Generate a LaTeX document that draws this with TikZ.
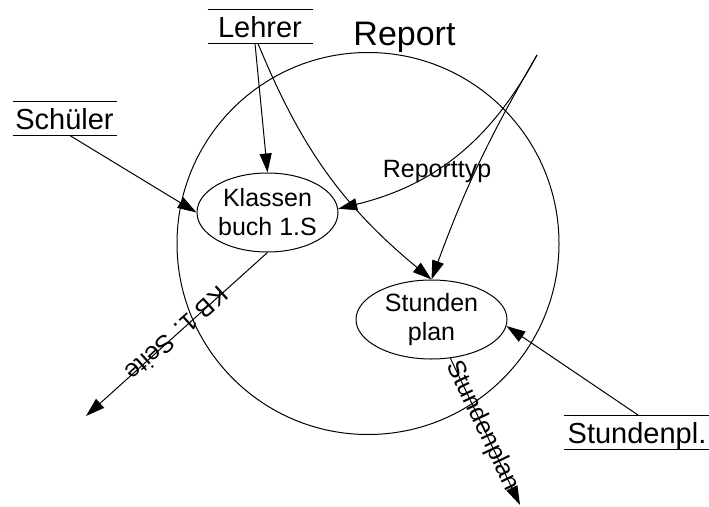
\documentclass[tikz,border=0pt]{standalone}
\usepackage{fontspec}
\setmainfont{Liberation Sans}
\usetikzlibrary{arrows.meta,shapes.geometric}
\begin{document}
\begin{tikzpicture}[x=0.75pt,y=-0.75pt,
  line width=0.75pt,
  flow/.style={-{Triangle[length=14.25pt,width=9pt]}},
  store/.style={inner xsep=0pt, inner ysep=0pt, text height=21pt, text depth=3.75pt,
    font=\fontsize{21.75pt}{26pt}\selectfont},
  proc/.style={ellipse, draw, inner sep=0pt, align=center,
    font=\fontsize{18.75pt}{21.75pt}\selectfont},
  flowlabel/.style={inner sep=0pt, font=\fontsize{18.75pt}{22pt}\selectfont},
]
\useasboundingbox (0,0) rectangle (709,506);

% system boundary
\node[circle, draw, inner sep=0pt, minimum size=286.5pt] (report) at (368,243.5) {};
\node[anchor=base, font=\fontsize{25.5pt}{30pt}\selectfont] (reporttitle) at (404.5,46) {Report};

% processes
\node[proc, minimum width=105.75pt, minimum height=59.25pt] (klassen) at (267.5,212.5) {Klassen\\buch 1.S};
\node[proc, minimum width=113.25pt, minimum height=59.25pt] (stunden) at (431.5,319.5) {Stunden\\plan};

% data stores: text between two horizontal rules
\node[store, minimum width=78pt] (lehrer) at (260,26.5) {Lehrer};
\node[store, minimum width=77.25pt] (schueler) at (64.5,118.5) {Schüler};
\node[store, minimum width=109.5pt] (stundenpl) at (637,432) {Stundenpl.};
\foreach \s in {lehrer,schueler,stundenpl}{
  \draw (\s.north west) -- (\s.north east);
  \draw (\s.south west) -- (\s.south east);
}

% free ends and labels
\coordinate (rtsrc) at (537,55);
\coordinate (kbout) at (86,416);
\coordinate (spout) at (520,505);
\node[flowlabel, anchor=base] (reporttyp) at (437,177) {Reporttyp};

% data flows
\draw[flow] ([xshift=4pt]schueler.south) -- (klassen.west);
\draw[flow] ([xshift=-3.75pt]lehrer.south) -- (klassen.north);
\draw[flow] ([xshift=-1.5pt]lehrer.south) to[bend right=14] (stunden.north);
\draw[flow] (rtsrc) to[bend left=24] (klassen.3);
\draw[flow] (rtsrc) to[bend right=5] (stunden.north);
\draw[flow] (klassen.south) -- node[flowlabel, pos=0.5, rotate=222.1] (kblabel) {KB 1. Seite} (kbout);
\draw[flow] (stunden.-64) -- node[flowlabel, pos=0.46, rotate=-64.5] (splabel) {Stundenplan} (spout);
\draw[flow] ([xshift=0.75pt]stundenpl.north) -- (stunden.-5);
\end{tikzpicture}
\end{document}
